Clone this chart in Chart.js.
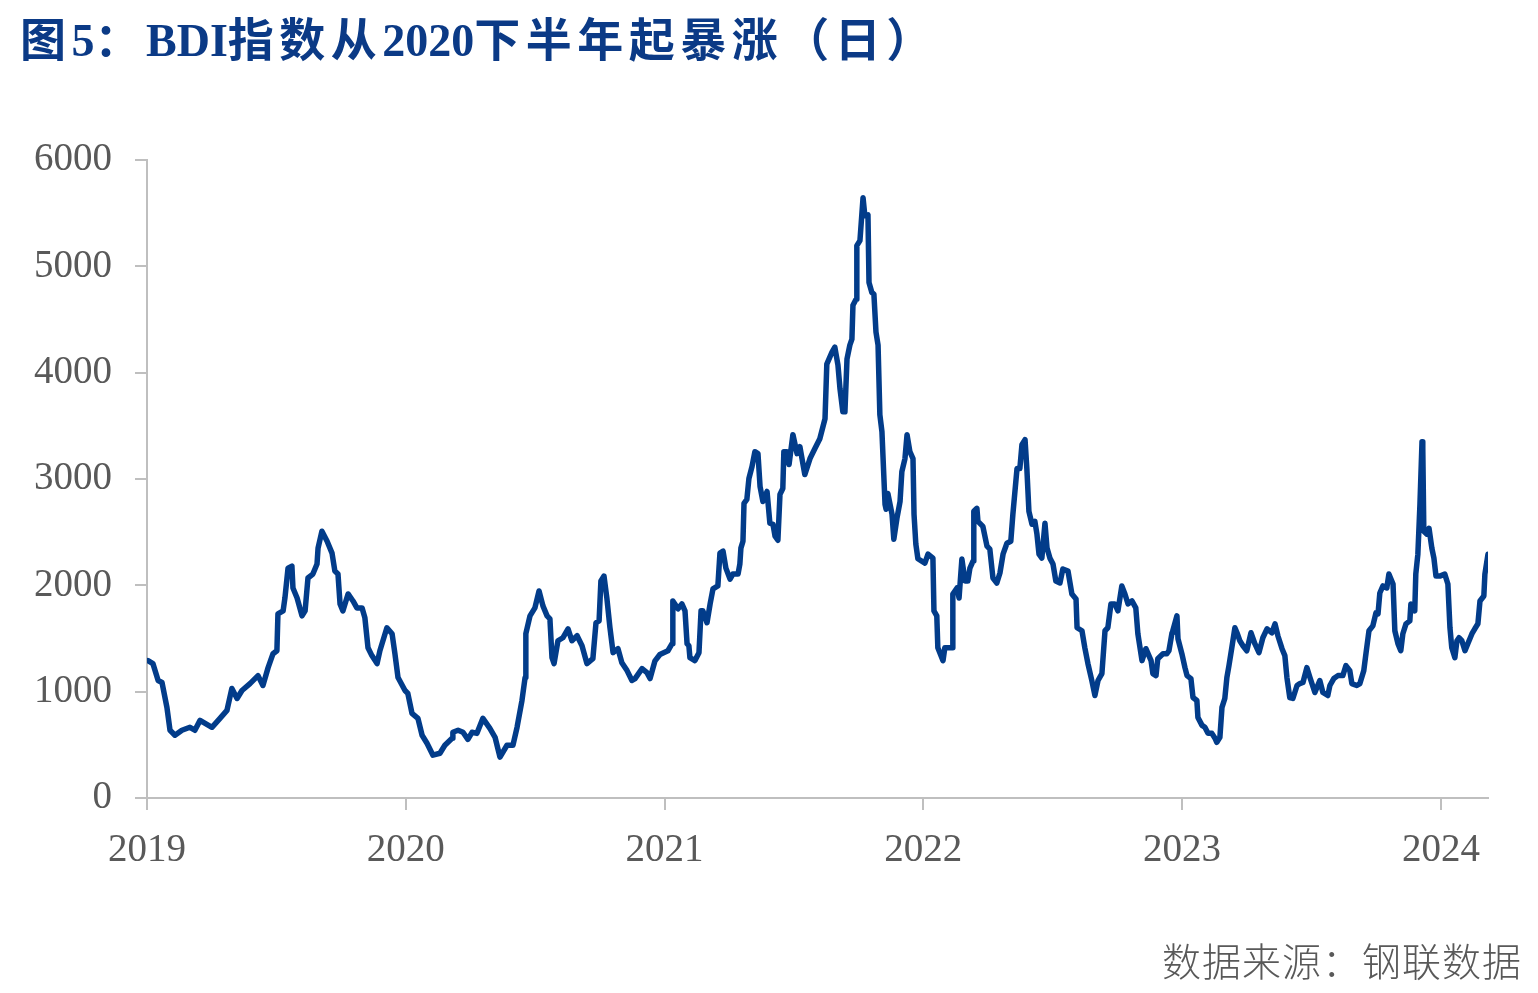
<!DOCTYPE html>
<html>
<head>
<meta charset="utf-8">
<script src="https://cdn.jsdelivr.net/npm/chart.js@4.4.1/dist/chart.umd.min.js"></script>
<style>
html,body{margin:0;padding:0;background:#fff;}
#wrap{position:relative;width:1538px;height:993px;overflow:hidden;}
#title{position:absolute;left:20px;top:16px;font-weight:bold;font-size:46px;font-family:"Liberation Serif","Noto Sans CJK SC",serif;color:#0B3A86;white-space:nowrap;line-height:50px;}
#title .c{letter-spacing:5.5px;}
#title .l{letter-spacing:0;}
#source{position:absolute;right:16px;top:935px;font-size:39px;letter-spacing:1px;font-family:"Noto Sans CJK SC",sans-serif;font-weight:300;color:#595959;line-height:48px;white-space:nowrap;}
canvas{position:absolute;left:0;top:0;}
</style>
</head>
<body>
<div id="wrap">
<canvas id="c" width="1538" height="993"></canvas>
<div id="title"><span class="c">图</span><span class="l">5</span><span class="c">：</span><span class="l">BDI</span><span class="c">指数从</span><span class="l">2020</span><span class="c">下半年起暴涨（日）</span></div>
<div id="source">数据来源：钢联数据</div>
</div>
<script>
// Time in decimal years
const years = [
2019.004,2019.023,2019.043,2019.058,2019.077,2019.089,2019.108,2019.135,2019.166,2019.185,
2019.205,2019.251,2019.282,2019.309,2019.328,2019.348,2019.367,2019.398,2019.429,2019.448,
2019.468,2019.487,2019.502,2019.506,2019.526,2019.533,2019.545,2019.560,2019.564,2019.580,
2019.599,2019.611,2019.622,2019.641,2019.657,2019.661,2019.676,2019.696,2019.715,2019.726,
2019.738,2019.746,2019.757,2019.777,2019.796,2019.811,2019.831,2019.842,2019.854,2019.869,
2019.889,2019.900,2019.927,2019.947,2019.958,2019.970,2019.997,2020.008,2020.024,2020.047,
2020.063,2020.082,2020.105,2020.132,2020.151,2020.179,2020.182,2020.202,2020.221,2020.240,
2020.256,2020.275,2020.298,2020.325,2020.345,2020.364,2020.391,2020.414,2020.430,2020.449,
2020.461,2020.464,2020.480,2020.499,2020.515,2020.530,2020.546,2020.557,2020.565,2020.573,
2020.588,2020.607,2020.627,2020.642,2020.662,2020.681,2020.700,2020.723,2020.735,2020.747,
2020.754,2020.766,2020.777,2020.789,2020.801,2020.820,2020.835,2020.855,2020.874,2020.886,
2020.913,2020.932,2020.944,2020.963,2020.982,2021.013,2021.029,2021.032,2021.052,2021.067,
2021.079,2021.087,2021.094,2021.098,2021.117,2021.133,2021.141,2021.148,2021.164,2021.176,
2021.187,2021.206,2021.214,2021.226,2021.237,2021.253,2021.264,2021.284,2021.291,2021.295,
2021.303,2021.307,2021.318,2021.326,2021.338,2021.349,2021.361,2021.369,2021.380,2021.396,
2021.407,2021.419,2021.427,2021.438,2021.446,2021.457,2021.461,2021.473,2021.481,2021.496,
2021.512,2021.523,2021.542,2021.562,2021.581,2021.600,2021.620,2021.627,2021.647,2021.658,
2021.670,2021.678,2021.689,2021.697,2021.705,2021.716,2021.724,2021.728,2021.740,2021.743,
2021.755,2021.767,2021.774,2021.786,2021.790,2021.801,2021.809,2021.817,2021.825,2021.832,
2021.840,2021.852,2021.856,2021.863,2021.879,2021.886,2021.898,2021.910,2021.917,2021.929,
2021.937,2021.948,2021.960,2021.964,2021.971,2021.979,2022.006,2022.018,2022.037,2022.041,
2022.052,2022.056,2022.076,2022.083,2022.111,2022.114,2022.130,2022.138,2022.149,2022.161,
2022.172,2022.180,2022.192,2022.195,2022.207,2022.211,2022.230,2022.246,2022.257,2022.269,
2022.284,2022.296,2022.308,2022.323,2022.338,2022.346,2022.362,2022.373,2022.381,2022.393,
2022.400,2022.408,2022.420,2022.431,2022.439,2022.447,2022.458,2022.470,2022.478,2022.489,
2022.501,2022.512,2022.528,2022.539,2022.559,2022.574,2022.590,2022.594,2022.613,2022.624,
2022.636,2022.651,2022.663,2022.675,2022.690,2022.702,2022.713,2022.725,2022.740,2022.752,
2022.767,2022.779,2022.791,2022.806,2022.821,2022.829,2022.845,2022.860,2022.880,2022.887,
2022.899,2022.906,2022.926,2022.941,2022.949,2022.961,2022.964,2022.980,2022.984,2022.999,
2023.011,2023.019,2023.034,2023.042,2023.057,2023.061,2023.077,2023.088,2023.100,2023.115,
2023.127,2023.134,2023.146,2023.154,2023.165,2023.173,2023.181,2023.192,2023.204,2023.212,
2023.223,2023.235,2023.250,2023.266,2023.281,2023.297,2023.312,2023.328,2023.347,2023.359,
2023.370,2023.386,2023.397,2023.405,2023.416,2023.428,2023.444,2023.455,2023.467,2023.482,
2023.494,2023.513,2023.532,2023.544,2023.563,2023.571,2023.586,2023.602,2023.621,2023.633,
2023.648,2023.656,2023.675,2023.687,2023.702,2023.710,2023.722,2023.737,2023.749,2023.757,
2023.764,2023.776,2023.791,2023.799,2023.815,2023.822,2023.834,2023.845,2023.853,2023.865,
2023.880,2023.884,2023.899,2023.903,2023.911,2023.919,2023.927,2023.930,2023.934,2023.946,
2023.954,2023.965,2023.973,2023.981,2023.996,2024.015,2024.027,2024.035,2024.042,2024.054,
2024.062,2024.070,2024.081,2024.093,2024.104,2024.120,2024.131,2024.143,2024.151,2024.166,
2024.170,2024.182
];
// BDI index values
const bdi = [
1292,1264,1105,1086,852,637,590,637,665,637,
730,665,749,824,1030,936,1011,1076,1151,1058,
1226,1357,1385,1732,1760,1881,2162,2181,1975,1881,
1713,1760,2069,2106,2200,2350,2509,2415,2303,2134,
2106,1825,1760,1919,1853,1788,1788,1694,1413,1339,
1264,1385,1601,1545,1357,1133,1011,983,796,749,
590,515,403,421,496,562,618,637,618,552,
618,608,749,655,571,384,496,496,665,917,
1133,1545,1713,1788,1947,1807,1713,1685,1320,1264,
1479,1507,1591,1479,1526,1432,1264,1310,1648,1666,
2041,2087,1881,1601,1367,1404,1273,1198,1105,1123,
1217,1179,1123,1290,1350,1385,1451,1853,1779,1825,
1760,1451,1432,1320,1292,1367,1760,1760,1648,1825,
1966,1994,2303,2321,2162,2059,2106,2106,2200,2350,
2415,2771,2808,3005,3117,3257,3239,2930,2789,2883,
2584,2574,2462,2424,2855,2911,3257,3257,3136,3417,
3239,3304,3042,3192,3286,3379,3566,4081,4194,4240,
4072,3847,3632,3632,4128,4259,4315,4634,4690,5195,
5242,5645,5476,5485,4849,4755,4737,4381,4259,3604,
3445,2761,2715,2864,2668,2434,2630,2789,3070,3192,
3417,3257,3192,2668,2387,2250,2209,2293,2256,1760,
1713,1413,1292,1413,1413,1919,1975,1881,2247,2041,
2041,2162,2228,2696,2724,2602,2555,2368,2340,2069,
2022,2116,2293,2396,2415,2668,3098,3098,3323,3370,
3098,2696,2574,2602,2481,2293,2256,2584,2350,2256,
2200,2041,2022,2153,2134,1919,1872,1601,1573,1413,
1264,1105,964,1105,1170,1573,1601,1825,1825,1760,
1994,1919,1825,1853,1788,1545,1292,1404,1292,1170,
1151,1310,1357,1357,1385,1554,1573,1713,1498,1357,
1226,1151,1123,945,917,758,683,665,608,608,
562,524,571,852,936,1133,1245,1413,1601,1554,
1479,1432,1385,1554,1451,1367,1507,1591,1554,1638,
1526,1404,1339,1133,945,936,1058,1076,1086,1226,
1133,992,1105,992,964,1058,1123,1151,1151,1245,
1198,1076,1058,1076,1198,1350,1573,1619,1741,1732,
1928,1994,1975,2106,2013,1573,1451,1385,1545,1638,
1666,1825,1760,2106,2293,2761,3351,3286,2509,2481,
2537,2350,2256,2087,2087,2106,2013,1601,1413,1320,
1479,1507,1479,1385,1451,1545,1591,1638,1853,1900,
2106,2293
];
const yTicks = [0,1000,2000,3000,4000,5000,6000];
const xTickYears = [2019,2020,2021,2022,2023,2024];

const points = years.map((t, i) => ({x: t, y: bdi[i]}));
const axisColor = '#BFBFBF';
const tickFont = {family: '"Liberation Serif","Times New Roman",serif', size: 39};

new Chart(document.getElementById('c'), {
  type: 'line',
  data: {
    datasets: [{
      data: points,
      borderColor: '#023C8A',
      borderWidth: 5.5,
      pointRadius: 0,
      tension: 0,
      borderJoinStyle: 'round',
      borderCapStyle: 'round',
      fill: false
    }]
  },
  options: {
    responsive: false,
    animation: false,
    devicePixelRatio: 1,
    layout: {padding: {left: 0, right: 50, top: 160, bottom: 0}},
    plugins: {legend: {display: false}, tooltip: {enabled: false}, title: {display: false}},
    scales: {
      x: {
        type: 'linear',
        min: xTickYears[0],
        max: years[years.length - 1],
        afterBuildTicks: (s) => { s.ticks = xTickYears.map(v => ({value: v})); },
        afterFit: (s) => { s.height = 993 - 798; },
        ticks: {
          autoSkip: false, maxRotation: 0, includeBounds: false,
          color: '#595959', font: tickFont, padding: 17,
          callback: (v) => String(v)
        },
        grid: {drawOnChartArea: false, drawTicks: true, tickLength: 12, color: axisColor, lineWidth: 2},
        border: {display: true, color: axisColor, width: 2}
      },
      y: {
        min: 0, max: 6000,
        afterBuildTicks: (s) => { s.ticks = yTicks.map(v => ({value: v})); },
        afterFit: (s) => { s.width = 147; },
        ticks: {color: '#595959', font: tickFont, padding: 23, callback: (v) => String(v)},
        grid: {drawOnChartArea: false, drawTicks: true, tickLength: 12, color: axisColor, lineWidth: 2},
        border: {display: true, color: axisColor, width: 2}
      }
    }
  }
});
</script>
</body>
</html>
